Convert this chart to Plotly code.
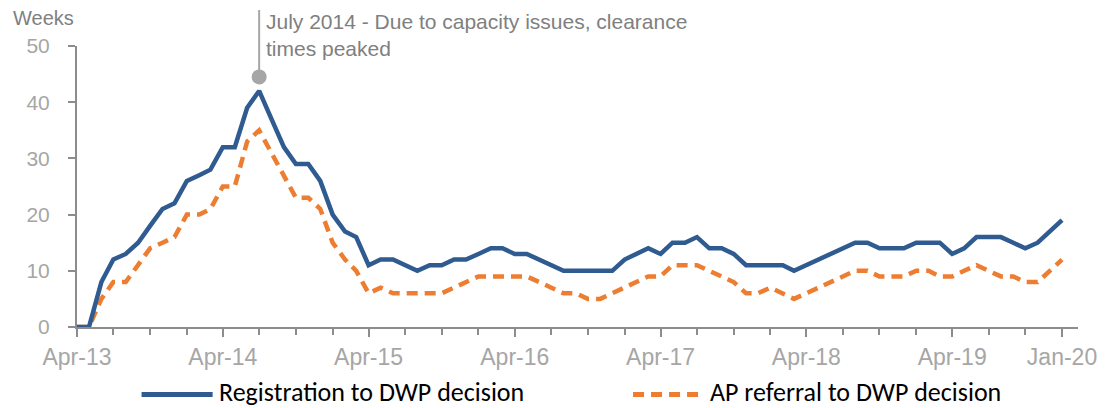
import pandas as pd
import plotly.graph_objects as go

# Monthly, Apr-2013 .. Jan-2020
months = pd.date_range("2013-04-01", "2020-01-01", freq="MS")

registration_weeks = [
    0, 0, 8, 12, 13, 15, 18, 21, 22, 26, 27, 28,
    32, 32, 39, 42, 37, 32, 29, 29, 26, 20, 17, 16,
    11, 12, 12, 11, 10, 11, 11, 12, 12, 13, 14, 14,
    13, 13, 12, 11, 10, 10, 10, 10, 10, 12, 13, 14,
    13, 15, 15, 16, 14, 14, 13, 11, 11, 11, 11, 10,
    11, 12, 13, 14, 15, 15, 14, 14, 14, 15, 15, 15,
    13, 14, 16, 16, 16, 15, 14, 15, 17, 19,
]
ap_referral_weeks = [
    0, 0, 5, 8, 8, 11, 14, 15, 16, 20, 20, 21,
    25, 25, 33, 35, 31, 27, 23, 23, 21, 15, 12, 10,
    6, 7, 6, 6, 6, 6, 6, 7, 8, 9, 9, 9,
    9, 9, 8, 7, 6, 6, 5, 5, 6, 7, 8, 9,
    9, 11, 11, 11, 10, 9, 8, 6, 6, 7, 6, 5,
    6, 7, 8, 9, 10, 10, 9, 9, 9, 10, 10, 9,
    9, 10, 11, 10, 9, 9, 8, 8, 10, 12,
]

tick_dates = ["2013-04-01", "2014-04-01", "2015-04-01", "2016-04-01",
              "2017-04-01", "2018-04-01", "2019-04-01", "2020-01-01"]
tick_labels = ["Apr-13", "Apr-14", "Apr-15", "Apr-16",
               "Apr-17", "Apr-18", "Apr-19", "Jan-20"]

peak_date = "2014-07-01"
peak_marker_weeks = 44.5
peak_text = "July 2014 - Due to capacity issues, clearance<br>times peaked"

BLUE = "#2F5B90"
ORANGE = "#ED7D31"
GREY = "#A6A6A6"
AXIS = "#8C8C8C"
FONT = "Liberation Sans, Arial, sans-serif"
LEGEND_FONT = "Carlito, Liberation Sans Narrow, Liberation Sans, sans-serif"

fig = go.Figure()

fig.add_trace(go.Scatter(
    x=months, y=ap_referral_weeks, mode="lines",
    name="AP referral to DWP decision",
    line=dict(color=ORANGE, width=4.5, dash="11px,7px"),
))
fig.add_trace(go.Scatter(
    x=months, y=registration_weeks, mode="lines",
    name="Registration to DWP decision",
    line=dict(color=BLUE, width=4.5),
))

# Peak callout
fig.add_shape(type="line", xref="x", yref="paper",
              x0=peak_date, x1=peak_date, y0=0.89, y1=1.128,
              line=dict(color=GREY, width=2), layer="below")
fig.add_trace(go.Scatter(
    x=[peak_date], y=[peak_marker_weeks], mode="markers",
    marker=dict(color=GREY, size=15), cliponaxis=False, hoverinfo="skip",
))
fig.add_annotation(x=peak_date, y=1.135, xref="x", yref="paper",
                   xanchor="left", yanchor="top", align="left", xshift=5,
                   text=peak_text, showarrow=False,
                   font=dict(family=FONT, size=21, color="#808080"))

# y-axis title above the axis
fig.add_annotation(x=-0.066, y=1.1, xref="paper", yref="paper",
                   xanchor="left", yanchor="middle", text="Weeks",
                   showarrow=False, font=dict(family=FONT, size=20, color="#7F7F7F"))

# hand-drawn legend (Excel style, long samples)
legend_items = [
    ("Registration to DWP decision", BLUE, "solid", 0.0645),
    ("AP referral to DWP decision", ORANGE, "11px,7px", 0.5555),
]
for label, color, dash, x0 in legend_items:
    fig.add_shape(type="line", xref="paper", yref="paper",
                  x0=x0, x1=x0 + 0.071, y0=-0.24, y1=-0.24,
                  line=dict(color=color, width=5, dash=dash))
    fig.add_annotation(x=x0 + 0.075, y=-0.233, xref="paper", yref="paper",
                       xanchor="left", yanchor="middle", text=label,
                       showarrow=False,
                       font=dict(family=LEGEND_FONT, size=26, color="#000000"))

fig.update_layout(
    width=1112, height=408,
    margin=dict(l=77, r=34, t=46, b=81),
    paper_bgcolor="white", plot_bgcolor="white",
    showlegend=False,
    font=dict(family=FONT, size=21, color=GREY),
)
fig.update_xaxes(
    type="date", range=["2013-04-01", "2020-02-10"],
    tickvals=tick_dates, ticktext=tick_labels,
    showgrid=False, zeroline=False,
    showline=True, linecolor=AXIS, linewidth=2,
    ticks="outside", ticklen=8, tickcolor=AXIS, tickwidth=1.5,
    minor=dict(dtick="M3", tick0="2013-04-01", ticks="outside",
               ticklen=6, tickcolor=AXIS, tickwidth=1.5, showgrid=False),
    tickfont=dict(family=FONT, size=23, color=GREY),
)
fig.update_yaxes(
    range=[0, 50], tickvals=[0, 10, 20, 30, 40, 50],
    showgrid=False, zeroline=False,
    showline=True, linecolor=AXIS, linewidth=2,
    ticks="outside", ticklen=7, tickcolor=AXIS, tickwidth=1.5,
    ticklabelstandoff=14,
    tickfont=dict(family=FONT, size=21, color=GREY),
)

fig.write_html("out.html", config={"displayModeBar": False},
               post_script="document.body.style.margin = '0';")
